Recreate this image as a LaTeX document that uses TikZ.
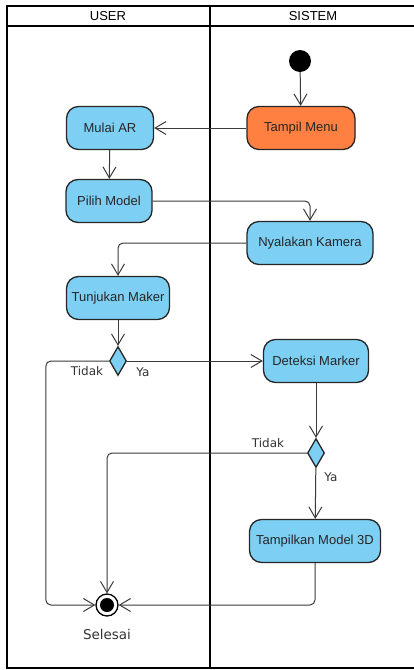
\documentclass[tikz,border=0pt]{standalone}
\usepackage{fontspec}
\setmainfont{Liberation Sans}
\newfontfamily\lblfont{DejaVu Sans}
\usepackage{tikz}
\usetikzlibrary{arrows}
\usetikzlibrary{arrows.meta}
\usetikzlibrary{shapes.geometric}
\usepackage{xcolor}
\definecolor{actblue}{HTML}{7DCFF4}
\definecolor{actorange}{HTML}{FF8040}
\definecolor{flowgray}{HTML}{3A3A3A}
\newcommand{\nodefont}{\fontsize{13}{15}\selectfont}
\newcommand{\lblsize}{\lblfont\fontsize{12}{14}\selectfont}
\tikzset{
  act/.style={draw=black!85, line width=1.3pt, fill=actblue, rounded corners=12pt,
    minimum height=43pt, inner sep=0pt, font=\nodefont, text=black!85},
  flow/.style={draw=flowgray, line width=1pt, rounded corners=5pt,
    -{Straight Barb[length=11pt,width=13pt]}},
  decide/.style={diamond, draw=black!85, fill=actblue, line width=1.3pt,
    minimum width=17pt, minimum height=29pt, inner sep=0pt},
  lbl/.style={font=\lblsize, text=black!80}
}

\begin{document}
\begin{tikzpicture}[x=1pt,y=-1pt]
\useasboundingbox (0,0) rectangle (414,670);
\draw[line width=2pt] (414,6) -- (7,6) -- (7,668) -- (414,668);
\draw[line width=2pt] (7,26) -- (414,26);
\draw[line width=2pt] (210,6) -- (210,668);
\node[font=\nodefont] (huser) at (108,16) {USER};
\node[font=\nodefont] (hsis) at (313,16) {SISTEM};

\node[circle, fill=black, minimum size=22pt, inner sep=0pt] (start) at (300,61) {};
\node[act, fill=actorange, minimum width=108pt] (menu) at (301,128) {Tampil Menu};
\node[act, minimum width=87pt] (mulai) at (110,128) {Mulai AR};
\node[act, minimum width=86pt] (pilih) at (109,201) {Pilih Model};
\node[act, minimum width=126pt] (kamera) at (310,243) {Nyalakan Kamera};
\node[act, minimum width=103pt] (tunjuk) at (118,298) {Tunjukan Maker};
\node[decide] (dec1) at (118,361) {};
\node[act, minimum width=105pt] (deteksi) at (316,361) {Deteksi Marker};
\node[decide] (dec2) at (316,453) {};
\node[act, minimum width=131pt] (tampil3d) at (315,541) {Tampilkan Model 3D};
\node[circle, draw=black, line width=1.3pt, fill=white, minimum size=22pt, inner sep=0pt] (end) at (107,605) {};
\node[circle, fill=black, minimum size=14pt, inner sep=0pt] (endin) at (end) {};

\draw[flow] (start) -- (menu);
\draw[flow] (menu) -- (mulai);
\draw[flow] (mulai) -- (pilih);
\draw[flow] (pilih.east) -| (kamera.north);
\draw[flow] (kamera.west) -| (tunjuk.north);
\draw[flow] (tunjuk) -- (dec1);
\draw[flow] (dec1.east) -- (deteksi.west);
\draw[flow] (dec1.west) -- ++(-63,0) |- (end.west);
\draw[flow] (deteksi) -- (dec2);
\draw[flow] (dec2.west) -| (end.north);
\draw[flow] (dec2) -- (tampil3d);
\draw[flow] (tampil3d.south) |- (end.east);

\node[lbl] (t1) at (87,371) {Tidak};
\node[lbl] (y1) at (143,372) {Ya};
\node[lbl] (t2) at (268,443) {Tidak};
\node[lbl] (y2) at (331,477) {Ya};
\node[lbl, font=\lblfont\fontsize{13.5}{15}\selectfont] (sel) at (107,634) {Selesai};
\end{tikzpicture}
\end{document}
